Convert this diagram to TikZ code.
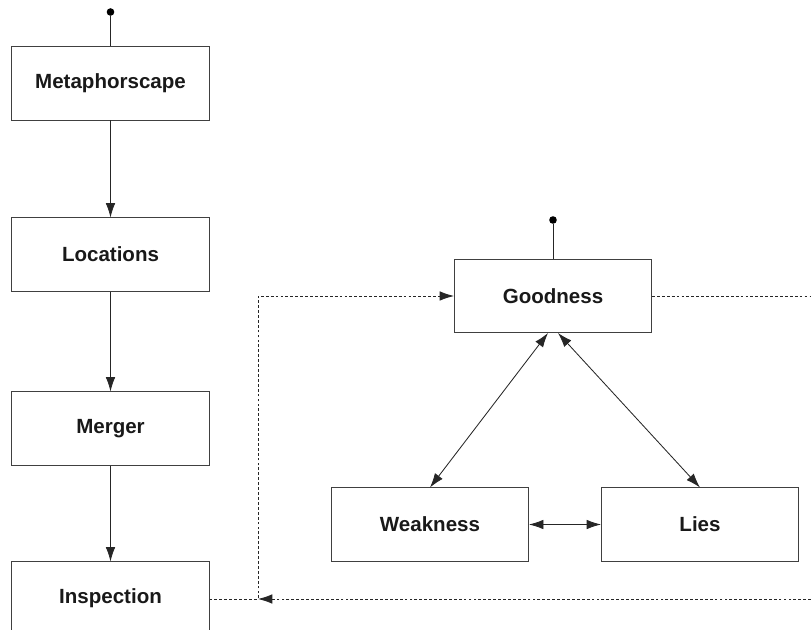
\documentclass[tikz,border=0pt]{standalone}
\usepackage{fontspec}
\setmainfont{Liberation Sans}
\usetikzlibrary{
    arrows.meta,
    calc,
    positioning
}
\tikzset{stage/.style={draw=black!75, line width=0.7pt, fill=white, minimum width=4.925cm, minimum height=1.825cm, font=\fontsize{14.6}{17}\selectfont\bfseries, text=black!90}}
\tikzset{tip/.style={-{Latex[length=0.36cm, width=0.24cm]}}}
\tikzset{flow/.style={draw=black!85, line width=0.6pt, tip}}
\tikzset{both/.style={draw=black!85, line width=0.6pt, {Latex[length=0.36cm, width=0.24cm]}-{Latex[length=0.36cm, width=0.24cm]}}}
\tikzset{fback/.style={draw=black!85, line width=0.6pt, dash pattern=on 2pt off 1.5pt}}
\tikzset{startdot/.style={inner sep=0pt, minimum size=0.19cm, circle, fill=black}}

\begin{document}
\begin{tikzpicture}[x=0.025cm, y=-0.025cm]
                        % pixel grid of the reference, y pointing down
                        \useasboundingbox (0, 0) rectangle (811, 630);
                        \clip (0, 0) rectangle (811, 630);

                        \node[stage] (meta) at (110.5, 83.5) {Metaphorscape};
                        \node[stage] (loc) at (110.5, 254.5) {Locations};
                        \node[stage] (merger) at (110.5, 428.5) {Merger};
                        \node[stage] (insp) at (110.5, 598.5) {Inspection};
                        \node[stage] (good) at (553, 296) {Goodness};
                        \node[stage] (weak) at (430, 524.5) {Weakness};
                        \node[stage] (lies) at (700, 524.5) {Lies};

                        \node[startdot] (metadot) at (110.5, 12) {};
                        \node[startdot] (gooddot) at (553, 220) {};

                        \coordinate (jn) at (258, 599);
                        \coordinate (rtop) at (811, 296);
                        \coordinate (rbot) at (811, 599);

                        \draw[draw=black!85, line width=0.6pt] (metadot) -- (meta) (gooddot) -- (good);

                        \draw[flow] (meta) -- (loc);
                        \draw[flow] (loc) -- (merger);
                        \draw[flow] (merger) -- (insp);

                        \draw[both] ([xshift=-0.125cm]good.south) -- (weak.north);
                        \draw[both] ([xshift=0.125cm]good.south) -- (lies.north);
                        \draw[both] (weak) -- (lies);

                        \draw[fback, tip] (insp.east |- jn) -- (jn) |- (good.west);
                        \draw[fback] (good.east) -- (rtop);
                        \draw[fback, tip] (rbot) -- (jn);
                    \end{tikzpicture}
\end{document}
